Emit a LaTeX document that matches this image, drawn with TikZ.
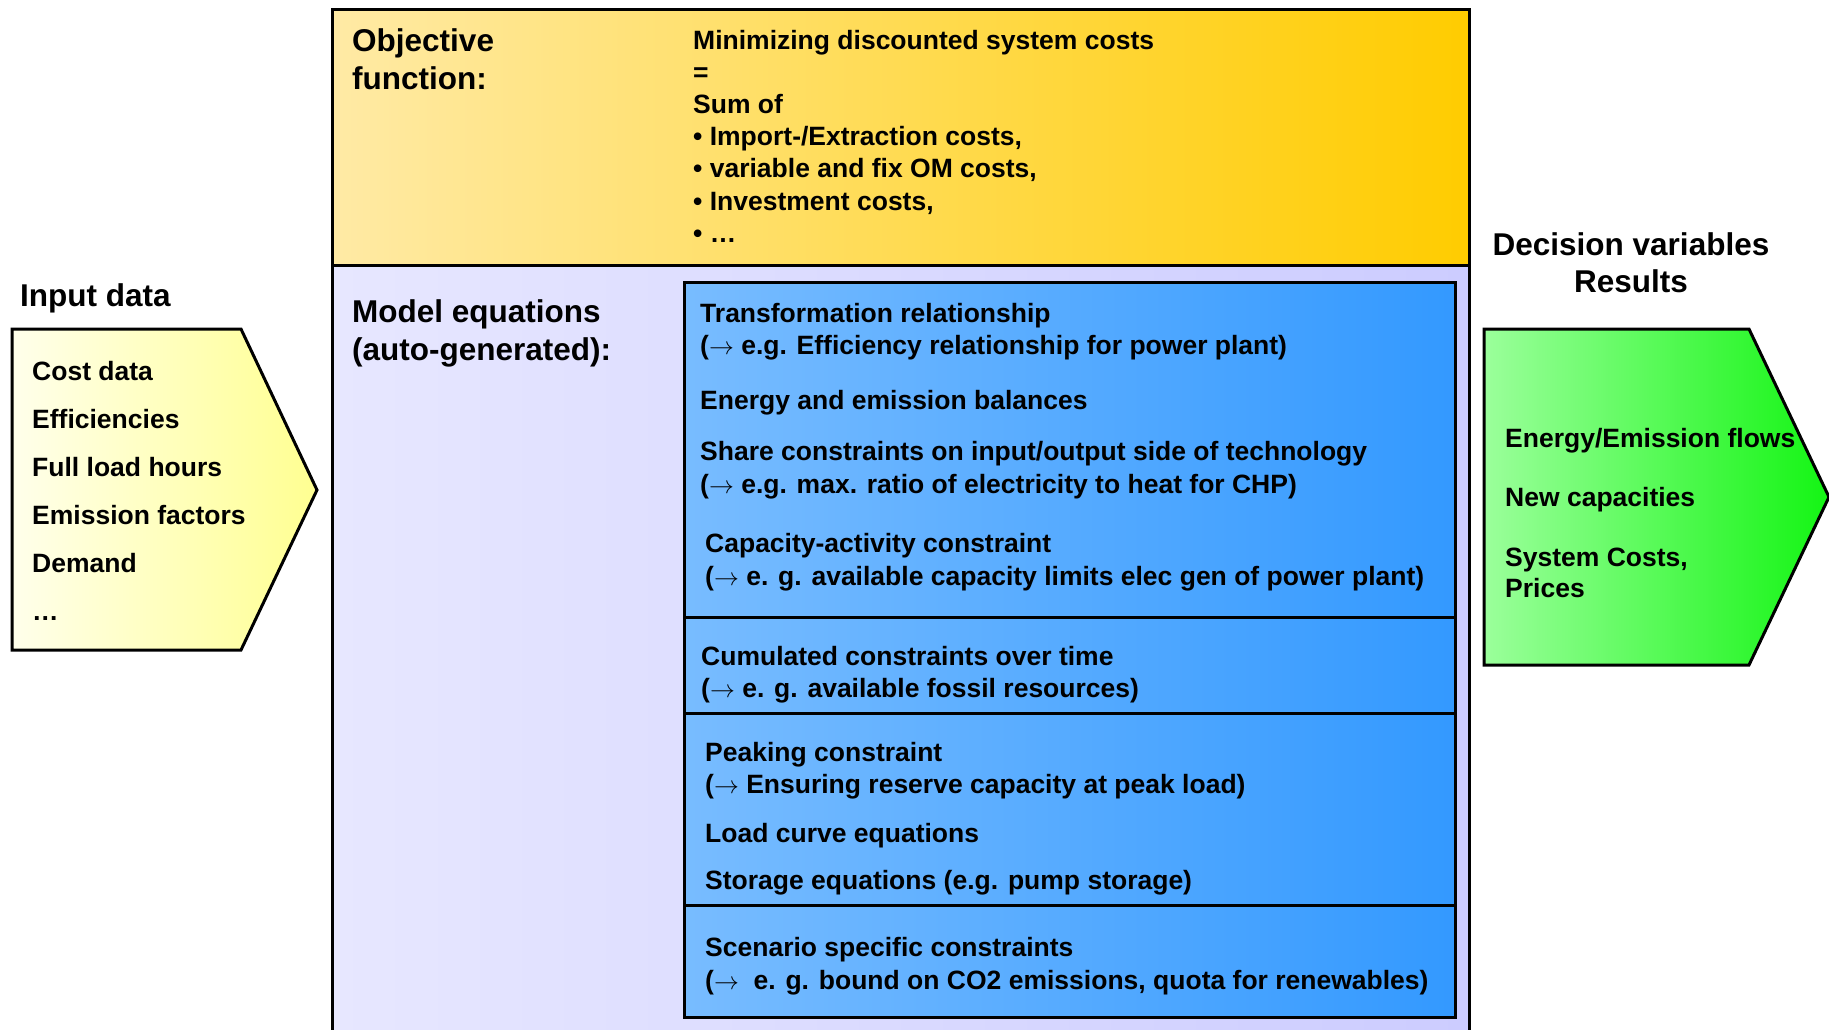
\documentclass[tikz,border=0pt]{standalone}
\usepackage{fontspec}
\setmainfont{Liberation Sans}
\definecolor{inpL}{RGB}{255,255,235}
\definecolor{inpR}{RGB}{255,255,145}
\definecolor{objL}{RGB}{255,234,165}
\definecolor{objR}{RGB}{255,204,0}
\definecolor{modL}{RGB}{231,231,255}
\definecolor{modR}{RGB}{204,204,255}
\definecolor{eqL}{RGB}{120,188,255}
\definecolor{eqR}{RGB}{51,153,255}
\definecolor{resL}{RGB}{155,255,155}
\definecolor{resR}{RGB}{20,245,20}
\newcommand{\ar}{$\rightarrow$}
\tikzset{
  frame/.style={draw=black,line width=3pt},
  txt/.style={anchor=base west,inner sep=0pt,font=\fontsize{26.5}{32}\selectfont\bfseries},
  hd/.style={anchor=base west,inner sep=0pt,font=\fontsize{31.5}{38}\selectfont\bfseries},
}
\begin{document}
\begin{tikzpicture}[x=1pt,y=-1pt]
\useasboundingbox (0,0) rectangle (1829,1029);
\clip (0,0) rectangle (1829,1029);
% input data
\draw[frame,left color=inpL,right color=inpR](12,329)--(241,329)--(317,490)--(241,650)--(12,650)--cycle;
\node[hd] (inhead) at (20,306) {Input data};
\foreach \i/\t in {0/{Cost data},1/{Efficiencies},2/{Full load hours},3/{Emission factors},4/{Demand},5/{…}}
  \node[txt] (in\i) at (32,380+48*\i) {\t};
% objective and model equations
\draw[frame,left color=modL,right color=modR](332,265)rectangle(1469,1045);
\draw[frame,left color=objL,right color=objR](332,9)rectangle(1469,265);
\node[hd] (objhead1) at (352,51) {Objective};
\node[hd] (objhead2) at (352,89) {function:};
\foreach \i/\t in {0/{Minimizing discounted system costs},1/{=},2/{Sum of},3/{• Import-/Extraction costs,},4/{• variable and fix OM costs,},5/{• Investment costs,},6/{• …}}
  \node[txt] (obj\i) at (693,49.5+32.1*\i) {\t};
\node[hd] (modhead1) at (352,322) {Model equations};
\node[hd] (modhead2) at (352,360) {(auto-generated):};
\foreach \a/\b in {282/617,617/713,713/905,905/1017}
  \draw[frame,left color=eqL,right color=eqR](684,\a)rectangle(1455,\b);
\foreach \n/\x/\y/\t in {
  eq1/700/322/{Transformation relationship},
  eq2/700/354.5/{(\ar{} e.g. Efficiency relationship for power plant)},
  eq3/700/409/{Energy and emission balances},
  eq4/700/460.5/{Share constraints on input/output side of technology},
  eq5/700/493/{(\ar{} e.g. max. ratio of electricity to heat for CHP)},
  eq6/705/552.5/{Capacity-activity constraint},
  eq7/705/585.3/{(\ar{} e. g. available capacity limits elec gen of power plant)},
  eq8/701/665.5/{Cumulated constraints over time},
  eq9/701/697.2/{(\ar{} e. g. available fossil resources)},
  eq10/705/761.5/{Peaking constraint},
  eq11/705/793/{(\ar{} Ensuring reserve capacity at peak load)},
  eq12/705/842/{Load curve equations},
  eq13/705/889.5/{Storage equations (e.g. pump storage)},
  eq14/705/956.5/{Scenario specific constraints},
  eq15/705/989/{(\ar\ \ e. g. bound on CO2 emissions, quota for renewables)}}
  \node[txt] (\n) at (\x,\y) {\t};
% results
\node[hd,anchor=base] (reshead1) at (1631,255) {Decision variables};
\node[hd,anchor=base] (reshead2) at (1631,292) {Results};
\draw[frame,left color=resL,right color=resR](1484,329)--(1749,329)--(1829,497)--(1749,665)--(1484,665)--cycle;
\foreach \i/\y/\t in {0/447/{Energy/Emission flows},1/506.5/{New capacities},2/566/{System Costs,},3/597/{Prices}}
  \node[txt] (res\i) at (1505,\y) {\t};
\end{tikzpicture}
\end{document}
